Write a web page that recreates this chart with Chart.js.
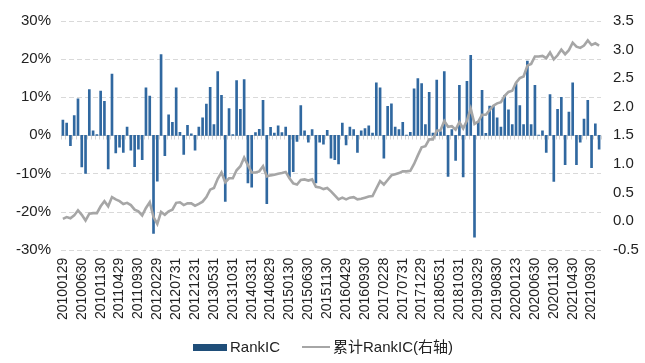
<!DOCTYPE html>
<html>
<head>
<meta charset="utf-8">
<script src="https://cdn.jsdelivr.net/npm/chart.js@4/dist/chart.umd.min.js"></script>
<style>
  body { margin: 0; background: #fff; }
  #wrap { position: relative; width: 645px; height: 363px; }
  #legend { position: absolute; left: 0; top: 337px; width: 645px; height: 20px;
            font-family: "Liberation Sans", Arial, "Noto Sans CJK SC", sans-serif; font-size: 15px; color: #222; }
  .item { position: absolute; top: 0; line-height: 20px; white-space: nowrap; }
  .sw { position: absolute; }
</style>
</head>
<body>
<div id="wrap">
  <canvas id="c"></canvas>
  <div id="legend">
    <span class="sw" style="left:193px; top:7px; width:34px; height:7px; background:#1f4e79;"></span>
    <span class="item" style="left:230px;">RankIC</span>
    <span class="sw" style="left:302px; top:9px; width:28px; height:2px; background:#a6a6a6;"></span>
    <span class="item" style="left:333px;">累计RankIC(右轴)</span>
  </div>
</div>
<script>
// tick labels shown on the x axis, one every 5 months from 2010-01
var tickLabels = ["20100129","20100630","20101130","20110429","20110930","20120229","20120731",
  "20121231","20130531","20131031","20140331","20140829","20150130","20150630","20151130",
  "20160429","20160930","20170228","20170731","20171229","20180531","20181031","20190329",
  "20190830","20200123","20200630","20201130","20210430","20210930"];

// monthly RankIC, in %
var rankIC = [
  4.0, 3.2, -2.7, 5.2, 9.6, -8.3, -10.0, 12.0, 1.2, 0.2,
  11.6, 8.9, -8.8, 16.1, -4.6, -3.1, -4.5, 2.2, -3.9, -8.2,
  -3.6, -6.4, 12.5, 10.3, -25.7, -12.0, 21.2, -5.3, 5.4, 3.4,
  12.5, 0.8, -5.0, 2.6, 0.4, -3.9, 2.2, 4.6, 8.2, 12.6,
  2.8, 16.7, 10.5, -17.3, 7.0, 0.2, 14.4, 6.8, 14.6, -12.5,
  -13.6, 0.7, 1.6, 9.2, -17.9, 2.1, 0.6, 2.5, 0.7, 2.2,
  -11.0, -9.5, -1.6, 7.8, 1.2, -1.8, 1.5, -12.5, -1.8, -2.3,
  1.3, -6.0, -6.4, -7.5, 3.2, -2.5, 2.2, 1.5, -4.5, 1.2,
  1.8, 2.5, 0.6, 13.8, 12.5, -6.0, 7.6, 8.3, 2.2, 1.5,
  3.4, 0.1, 0.8, 12.2, 14.9, 13.6, 2.8, 11.3, 0.6, 14.5,
  1.0, 16.7, -10.8, 1.5, -6.6, 13.1, -10.9, 14.2, 21.0, -26.7,
  3.7, 11.8, 0.5, 7.7, 7.6, 4.6, 2.2, 10.5, 6.7, 2.8,
  13.6, 7.8, 2.8, 19.5, 2.8, 13.1, 0.1, 1.2, -4.5, 10.7,
  -12.1, 6.8, 10.0, -7.7, 6.1, 13.8, -7.7, -1.8, 4.3, 9.2,
  -8.5, 3.0, -3.6
];

// cumulative RankIC (right axis)
var cumRankIC = [
  0.04, 0.07, 0.05, 0.10, 0.19, 0.11, 0.01, 0.13, 0.14, 0.14,
  0.26, 0.35, 0.26, 0.42, 0.38, 0.35, 0.30, 0.32, 0.28, 0.20,
  0.17, 0.10, 0.23, 0.33, 0.07, -0.05, 0.16, 0.11, 0.17, 0.20,
  0.32, 0.33, 0.28, 0.31, 0.31, 0.27, 0.30, 0.34, 0.42, 0.55,
  0.58, 0.74, 0.85, 0.68, 0.75, 0.75, 0.89, 0.96, 1.11, 0.98,
  0.85, 0.85, 0.87, 0.96, 0.78, 0.80, 0.81, 0.83, 0.84, 0.86,
  0.75, 0.66, 0.64, 0.72, 0.73, 0.71, 0.73, 0.60, 0.59, 0.56,
  0.58, 0.52, 0.45, 0.38, 0.41, 0.38, 0.41, 0.42, 0.38, 0.39,
  0.41, 0.43, 0.44, 0.57, 0.70, 0.64, 0.72, 0.80, 0.82, 0.84,
  0.87, 0.87, 0.88, 1.00, 1.15, 1.29, 1.31, 1.43, 1.43, 1.58,
  1.59, 1.75, 1.65, 1.66, 1.60, 1.73, 1.62, 1.76, 1.97, 1.70,
  1.74, 1.86, 1.86, 1.94, 2.02, 2.06, 2.08, 2.19, 2.26, 2.28,
  2.42, 2.50, 2.53, 2.72, 2.75, 2.88, 2.88, 2.89, 2.85, 2.95,
  2.83, 2.90, 3.00, 2.92, 2.99, 3.12, 3.05, 3.03, 3.07, 3.16,
  3.08, 3.11, 3.07
];

var categories = [];
for (var i = 0; i < rankIC.length; i++) {
  categories.push(i % 5 == 0 ? tickLabels[i / 5] : "");
}

var font = { family: '"Liberation Sans", Arial, sans-serif', size: 15 };

// dashed grid from the left axis ticks, plus the light grey zero line with small category ticks
var backLines = {
  id: "backLines",
  beforeDatasetsDraw: function(chart) {
    var ctx = chart.ctx, x = chart.scales.x, y = chart.scales.y;
    ctx.save();
    ctx.strokeStyle = "#d9d9d9";
    ctx.lineWidth = 1;
    ctx.setLineDash([5, 3]);
    y.ticks.forEach(function(t) {
      if (t.value == 0) return;
      var yy = Math.round(y.getPixelForValue(t.value)) + 0.5;
      ctx.beginPath();
      ctx.moveTo(x.left, yy);
      ctx.lineTo(x.right, yy);
      ctx.stroke();
    });
    ctx.setLineDash([]);
    var y0 = Math.round(y.getPixelForValue(0)) + 0.5;
    var step = (x.right - x.left) / categories.length;
    ctx.strokeStyle = "#d4d4d4";
    ctx.beginPath();
    ctx.moveTo(x.left, y0);
    ctx.lineTo(x.right, y0);
    for (var k = 0; k <= categories.length; k++) {
      var xx = Math.round(x.left + k * step) + 0.5;
      ctx.moveTo(xx, y0);
      ctx.lineTo(xx, y0 + 4);
    }
    ctx.stroke();
    ctx.restore();
  }
};

new Chart(document.getElementById("c"), {
  data: {
    labels: categories,
    datasets: [
      {
        type: "line",
        label: "累计RankIC(右轴)",
        data: cumRankIC,
        yAxisID: "y1",
        borderColor: "#a6a6a6",
        borderWidth: 2.6,
        pointRadius: 0,
        tension: 0,
        order: 0
      },
      {
        type: "bar",
        label: "RankIC",
        data: rankIC,
        yAxisID: "y",
        backgroundColor: "#3068a0",
        barThickness: 2,
        order: 1
      }
    ]
  },
  options: {
    responsive: true,
    maintainAspectRatio: false,
    animation: false,
    layout: { padding: { top: 12, bottom: 43, left: 0, right: 0 } },
    plugins: { legend: { display: false }, tooltip: { enabled: false } },
    scales: {
      x: {
        grid: { display: false },
        border: { display: false },
        ticks: {
          autoSkip: false, minRotation: 90, maxRotation: 90,
          color: "#222", font: { family: font.family, size: 14 }, padding: 0
        }
      },
      y: {
        position: "left",
        min: -30, max: 30,
        afterFit: function(s) { s.width = 61; },
        grid: { display: false, drawTicks: false },
        border: { display: false },
        ticks: {
          stepSize: 10, color: "#222", font: font, padding: 10,
          callback: function(v) { return v + "%"; }
        }
      },
      y1: {
        position: "right",
        min: -0.5, max: 3.5,
        afterFit: function(s) { s.width = 44; },
        grid: { display: false, drawTicks: false },
        border: { display: false },
        ticks: {
          stepSize: 0.5, color: "#222", font: font, padding: 12,
          callback: function(v) { return v.toFixed(1); }
        }
      }
    }
  },
  plugins: [backLines]
});
</script>
</body>
</html>
